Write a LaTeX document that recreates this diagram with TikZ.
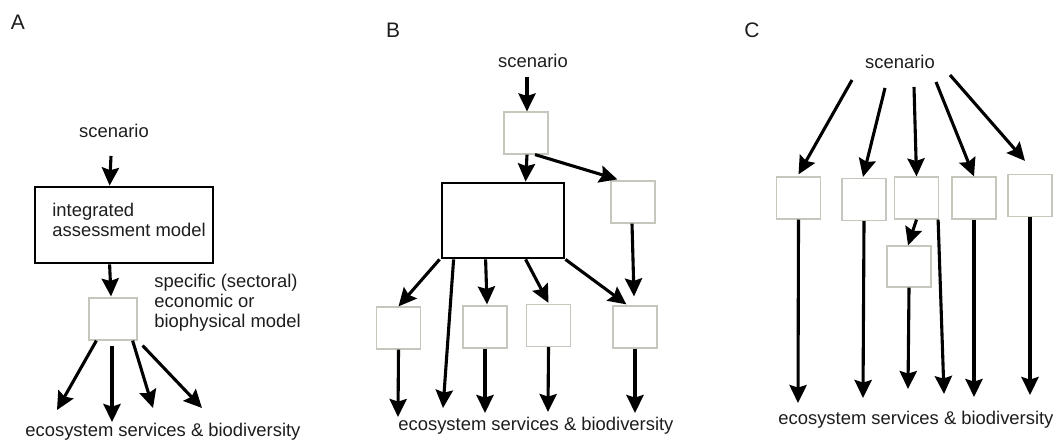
\documentclass[tikz,border=0pt]{standalone}
\usepackage{fontspec}
\setmainfont{Liberation Sans}
\usetikzlibrary{arrows.meta,calc}
\definecolor{inkc}{HTML}{1E1C1C}
\definecolor{boxgray}{HTML}{C6C6BC}
\tikzset{
  txt/.style={inner sep=0pt, text=inkc, font=\fontsize{9.2}{10}\selectfont},
  panellab/.style={inner sep=0pt, text=inkc, font=\fontsize{10.5}{12}\selectfont},
  modelbox/.style={draw=boxgray, line width=0.6pt, fill=white, inner sep=0pt,
                   minimum width=22pt, minimum height=21pt},
  bigbox/.style={draw=black, line width=1.4pt, inner sep=0pt},
  arr/.style={draw=black, line width=1.55pt,
              -{Stealth[length=9pt, width=8.6pt, inset=1.3pt]}},
}
\begin{document}
\begin{tikzpicture}[x=0.5pt, y=-0.5pt]
\useasboundingbox (0,0) rectangle (1053,442);

% ---------------- panel A ----------------
\node[panellab] (labA) at (18,22) {A};
\node[txt, anchor=base] (scA) at (114,138) {scenario};
\node[bigbox, minimum width=89pt, minimum height=38pt] (iam) at (124,225) {};
\node[txt, anchor=north west, align=left] (iamT) at (52,203)
  {integrated\\assessment model};
\node[modelbox, minimum width=24pt] (sA) at (113,319) {};
\node[txt, anchor=north west, align=left] (sAT) at (154,274)
  {specific (sectoral)\\economic or\\biophysical model};
\node[txt, anchor=base west] (ecoA) at (25,437) {ecosystem services \& biodiversity};

\coordinate (eA1) at (57,410);
\coordinate (eA2) at (112,422);
\coordinate (eA3) at (153,408);
\coordinate (eA4) at (202,408);

\draw[arr] ($(scA.base)+(-3,18)$) -- ($(iam.north west)+(76,0)$);
\draw[arr] ($(iam.south west)+(76,0)$) -- ($(sA.north)+(-2,-1)$);
\draw[arr] ($(sA.south west)+(8,0)$) -- (eA1);
\draw[arr] ($(sA.south)+(-1,5)$) -- (eA2);
\draw[arr] ($(sA.south east)+(-5,0)$) -- (eA3);
\draw[arr] ($(sA.south east)+(5,5)$) -- (eA4);

% ---------------- panel B ----------------
\node[panellab] (labB) at (393,30) {B};
\node[txt, anchor=base] (scB) at (533,68) {scenario};
\node[modelbox] (tB) at (526,133) {};
\node[bigbox, minimum width=61pt, minimum height=37.5pt] (bigB) at (503,220.5) {};
\node[modelbox] (rB) at (633,202) {};
\node[modelbox] (b1) at (398.5,328) {};
\node[modelbox] (b2) at (485,327) {};
\node[modelbox] (b3) at (548.5,325.5) {};
\node[modelbox] (b4) at (635,327) {};
\node[txt, anchor=base west] (ecoB) at (398,430) {ecosystem services \& biodiversity};

\coordinate (eB0) at (443,408);
\coordinate (eB1) at (398,417);
\coordinate (eB2) at (485,413);
\coordinate (eB3) at (548,412);
\coordinate (eB4) at (635,413);

\draw[arr] ($(scB.base)+(-6,9)$) -- ($(tB.north)+(1,0)$);
\draw[arr] ($(tB.south)+(1,0)$) -- ($(bigB.north west)+(85,0)$);
\draw[arr] ($(tB.south)+(9,0)$) -- ($(rB.north west)+(7,-1)$);
\draw[arr] ($(rB.south)+(-1,0)$) -- ($(b4.north)+(-1,-9)$);
\draw[arr] ($(bigB.south west)+(-1,0)$) -- (b1.north);
\draw[arr] ($(bigB.south west)+(13,0)$) -- (eB0);
\draw[arr] ($(bigB.south west)+(45,0)$) -- ($(b2.north)+(2,-1)$);
\draw[arr] ($(bigB.south west)+(85,0)$) -- ($(b3.north)+(0,-1)$);
\draw[arr] (bigB.south east) -- ($(b4.north west)+(14,-1)$);
\draw[arr] (b1.south) -- (eB1);
\draw[arr] (b2.south) -- (eB2);
\draw[arr] (b3.south) -- (eB3);
\draw[arr] (b4.south) -- (eB4);

% ---------------- panel C ----------------
\node[panellab] (labC) at (752,30) {C};
\node[txt, anchor=base] (scC) at (900,69) {scenario};
\node[modelbox] (c1) at (798.5,198) {};
\node[modelbox] (c2) at (864,199.5) {};
\node[modelbox] (c3) at (916.5,198) {};
\node[modelbox] (c4) at (974,198) {};
\node[modelbox] (c5) at (1030,195.5) {};
\node[modelbox, minimum height=20.5pt] (c6) at (909,266.5) {};
\node[txt, anchor=base west] (ecoC) at (778,424) {ecosystem services \& biodiversity};

\coordinate (sC1) at (852,80);
\coordinate (sC2) at (885,88);
\coordinate (sC3) at (914,87);
\coordinate (sC4) at (936,82);
\coordinate (sC5) at (950,75);
\coordinate (eC1) at (798,403);
\coordinate (eC2) at (863,398);
\coordinate (eC3) at (944,394);
\coordinate (eC6) at (908,389);
\coordinate (eC4) at (974,397);
\coordinate (eC5) at (1030,395);

\draw[arr] (sC1) -- ($(c1.north)+(0,-2)$);
\draw[arr] (sC2) -- ($(c2.north)+(-1,-1)$);
\draw[arr] (sC3) -- ($(c3.north)+(0,0)$);
\draw[arr] (sC4) -- ($(c4.north)+(0,0)$);
\draw[arr] (sC5) -- ($(c5.north)+(-5,-13)$);
\draw[arr] (c1.south) -- (eC1);
\draw[arr] (c2.south) -- (eC2);
\draw[arr] (c3.south) -- ($(c6.north)+(-1,0)$);
\draw[arr] ($(c3.south east)+(-1,0)$) -- (eC3);
\draw[arr] (c6.south) -- (eC6);
\draw[arr] (c4.south) -- (eC4);
\draw[arr] (c5.south) -- (eC5);
\end{tikzpicture}
\end{document}
